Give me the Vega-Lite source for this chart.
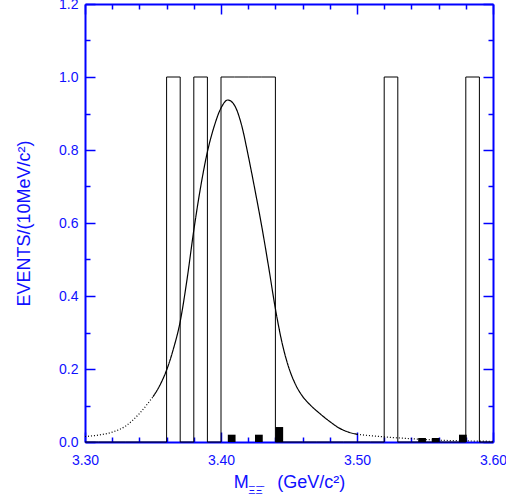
{
  "$schema": "https://vega.github.io/schema/vega-lite/v6.json",
  "width": 408,
  "height": 438,
  "autosize": {"type": "none"},
  "padding": {"left": 85, "top": 4, "right": 13, "bottom": 54},
  "background": "white",
  "config": {
    "view": {"stroke": null},
    "font": "Liberation Sans",
    "axis": {
      "domainColor": "#0000ff",
      "domainWidth": 2,
      "tickColor": "#0000ff",
      "tickWidth": 1.5,
      "labelColor": "#1010ff",
      "titleColor": "#1010ff",
      "labelFont": "Liberation Sans",
      "titleFont": "Liberation Sans",
      "labelFontSize": 14,
      "titleFontSize": 18,
      "titleFontWeight": "normal",
      "grid": false,
      "labelOverlap": false,
      "labelFlush": false,
      "zindex": 1
    }
  },
  "datasets": {
    "hist": [
      {"edge": 3.30, "count": 0}, {"edge": 3.31, "count": 0}, {"edge": 3.32, "count": 0},
      {"edge": 3.33, "count": 0}, {"edge": 3.34, "count": 0}, {"edge": 3.35, "count": 0},
      {"edge": 3.36, "count": 1}, {"edge": 3.37, "count": 0}, {"edge": 3.38, "count": 1},
      {"edge": 3.39, "count": 0}, {"edge": 3.40, "count": 1}, {"edge": 3.41, "count": 1},
      {"edge": 3.42, "count": 1}, {"edge": 3.43, "count": 1}, {"edge": 3.44, "count": 0},
      {"edge": 3.45, "count": 0}, {"edge": 3.46, "count": 0}, {"edge": 3.47, "count": 0},
      {"edge": 3.48, "count": 0}, {"edge": 3.49, "count": 0}, {"edge": 3.50, "count": 0},
      {"edge": 3.51, "count": 0}, {"edge": 3.52, "count": 1}, {"edge": 3.53, "count": 0},
      {"edge": 3.54, "count": 0}, {"edge": 3.55, "count": 0}, {"edge": 3.56, "count": 0},
      {"edge": 3.57, "count": 0}, {"edge": 3.58, "count": 1}, {"edge": 3.59, "count": 0},
      {"edge": 3.60, "count": 0}
    ],
    "bkg": [
      {"lo": 3.405, "hi": 3.4107, "h": 0.02},
      {"lo": 3.425, "hi": 3.4307, "h": 0.02},
      {"lo": 3.440, "hi": 3.4457, "h": 0.041},
      {"lo": 3.545, "hi": 3.5507, "h": 0.011},
      {"lo": 3.555, "hi": 3.5607, "h": 0.011},
      {"lo": 3.575, "hi": 3.5807, "h": 0.02}
    ],
    "curve": [
      {"x": 3.300, "y": 0.015, "seg": "L", "kind": "dotted"},
      {"x": 3.310, "y": 0.019, "seg": "L", "kind": "dotted"},
      {"x": 3.320, "y": 0.027, "seg": "L", "kind": "dotted"},
      {"x": 3.330, "y": 0.044, "seg": "L", "kind": "dotted"},
      {"x": 3.340, "y": 0.078, "seg": "L", "kind": "dotted"},
      {"x": 3.350, "y": 0.124, "seg": "L", "kind": "dotted"},
      {"x": 3.350, "y": 0.124, "seg": "M", "kind": "solid"},
      {"x": 3.355, "y": 0.155, "seg": "M", "kind": "solid"},
      {"x": 3.360, "y": 0.197, "seg": "M", "kind": "solid"},
      {"x": 3.365, "y": 0.255, "seg": "M", "kind": "solid"},
      {"x": 3.370, "y": 0.330, "seg": "M", "kind": "solid"},
      {"x": 3.375, "y": 0.445, "seg": "M", "kind": "solid"},
      {"x": 3.380, "y": 0.580, "seg": "M", "kind": "solid"},
      {"x": 3.385, "y": 0.698, "seg": "M", "kind": "solid"},
      {"x": 3.390, "y": 0.795, "seg": "M", "kind": "solid"},
      {"x": 3.395, "y": 0.865, "seg": "M", "kind": "solid"},
      {"x": 3.400, "y": 0.915, "seg": "M", "kind": "solid"},
      {"x": 3.405, "y": 0.937, "seg": "M", "kind": "solid"},
      {"x": 3.410, "y": 0.922, "seg": "M", "kind": "solid"},
      {"x": 3.415, "y": 0.870, "seg": "M", "kind": "solid"},
      {"x": 3.420, "y": 0.785, "seg": "M", "kind": "solid"},
      {"x": 3.425, "y": 0.690, "seg": "M", "kind": "solid"},
      {"x": 3.430, "y": 0.590, "seg": "M", "kind": "solid"},
      {"x": 3.435, "y": 0.480, "seg": "M", "kind": "solid"},
      {"x": 3.440, "y": 0.365, "seg": "M", "kind": "solid"},
      {"x": 3.445, "y": 0.270, "seg": "M", "kind": "solid"},
      {"x": 3.450, "y": 0.202, "seg": "M", "kind": "solid"},
      {"x": 3.455, "y": 0.156, "seg": "M", "kind": "solid"},
      {"x": 3.460, "y": 0.125, "seg": "M", "kind": "solid"},
      {"x": 3.466, "y": 0.100, "seg": "M", "kind": "solid"},
      {"x": 3.472, "y": 0.080, "seg": "M", "kind": "solid"},
      {"x": 3.480, "y": 0.056, "seg": "M", "kind": "solid"},
      {"x": 3.487, "y": 0.038, "seg": "M", "kind": "solid"},
      {"x": 3.493, "y": 0.028, "seg": "M", "kind": "solid"},
      {"x": 3.500, "y": 0.021, "seg": "M", "kind": "solid"},
      {"x": 3.500, "y": 0.021, "seg": "R", "kind": "dotted"},
      {"x": 3.520, "y": 0.014, "seg": "R", "kind": "dotted"},
      {"x": 3.540, "y": 0.009, "seg": "R", "kind": "dotted"},
      {"x": 3.560, "y": 0.005, "seg": "R", "kind": "dotted"},
      {"x": 3.580, "y": 0.003, "seg": "R", "kind": "dotted"},
      {"x": 3.600, "y": 0.002, "seg": "R", "kind": "dotted"}
    ]
  },
  "layer": [
    {
      "data": {"name": "hist"},
      "mark": {"type": "line", "interpolate": "step-after", "color": "black", "strokeWidth": 1},
      "encoding": {
        "x": {
          "field": "edge", "type": "quantitative",
          "scale": {"domain": [3.3, 3.6], "nice": false, "zero": false},
          "axis": {
            "orient": "bottom",
            "values": [3.30, 3.32, 3.34, 3.36, 3.38, 3.40, 3.42, 3.44, 3.46, 3.48, 3.50, 3.52, 3.54, 3.56, 3.58, 3.60],
            "tickSize": {"condition": {"test": "round(datum.value*100)%10==0", "value": -10}, "value": -5},
            "labelExpr": "round(datum.value*100)%10==0 ? format(datum.value,'.2f') : ''",
            "labelPadding": 21,
            "title": "M\u2003\u2002\u200a(GeV/c²)",
            "titlePadding": 1
          }
        },
        "y": {
          "field": "count", "type": "quantitative",
          "scale": {"domain": [0, 1.2], "nice": false},
          "axis": {
            "orient": "left",
            "values": [0, 0.1, 0.2, 0.3, 0.4, 0.5, 0.6, 0.7, 0.8, 0.9, 1.0, 1.1, 1.2],
            "tickSize": {"condition": {"test": "round(datum.value*10)%2==0", "value": -10}, "value": -5},
            "labelExpr": "round(datum.value*10)%2==0 ? format(datum.value,'.1f') : ''",
            "labelPadding": 17,
            "title": "EVENTS/(10MeV/c²)",
            "titlePadding": 25
          }
        }
      }
    },
    {
      "data": {"name": "bkg"},
      "mark": {"type": "rect", "color": "black"},
      "encoding": {
        "x": {"field": "lo", "type": "quantitative", "scale": {"domain": [3.3, 3.6], "nice": false, "zero": false}, "axis": null},
        "x2": {"field": "hi"},
        "y": {"field": "h", "type": "quantitative", "scale": {"domain": [0, 1.2], "nice": false}, "axis": null},
        "y2": {"datum": 0}
      }
    },
    {
      "data": {"name": "curve"},
      "mark": {"type": "line", "color": "black", "strokeWidth": 1.2, "interpolate": "monotone"},
      "encoding": {
        "x": {
          "field": "x", "type": "quantitative",
          "scale": {"domain": [3.3, 3.6], "nice": false, "zero": false},
          "axis": {
            "orient": "top",
            "values": [3.30, 3.32, 3.34, 3.36, 3.38, 3.40, 3.42, 3.44, 3.46, 3.48, 3.50, 3.52, 3.54, 3.56, 3.58, 3.60],
            "tickSize": {"condition": {"test": "round(datum.value*100)%10==0", "value": -10}, "value": -5},
            "labels": false,
            "title": "ΞΞ̄",
            "titleFontSize": 11,
            "titleX": 170,
            "titleY": 489,
            "titleAlign": "center",
            "titleBaseline": "alphabetic"
          }
        },
        "y": {
          "field": "y", "type": "quantitative",
          "scale": {"domain": [0, 1.2], "nice": false},
          "axis": {
            "orient": "right",
            "values": [0, 0.1, 0.2, 0.3, 0.4, 0.5, 0.6, 0.7, 0.8, 0.9, 1.0, 1.1, 1.2],
            "tickSize": {"condition": {"test": "round(datum.value*10)%2==0", "value": -10}, "value": -5},
            "labels": false,
            "title": null
          }
        },
        "detail": {"field": "seg"},
        "strokeDash": {
          "field": "kind", "type": "nominal",
          "scale": {"domain": ["solid", "dotted"], "range": [[1, 0], [1, 2]]},
          "legend": null
        }
      }
    }
  ],
  "resolve": {"axis": {"x": "independent", "y": "independent"}}
}
